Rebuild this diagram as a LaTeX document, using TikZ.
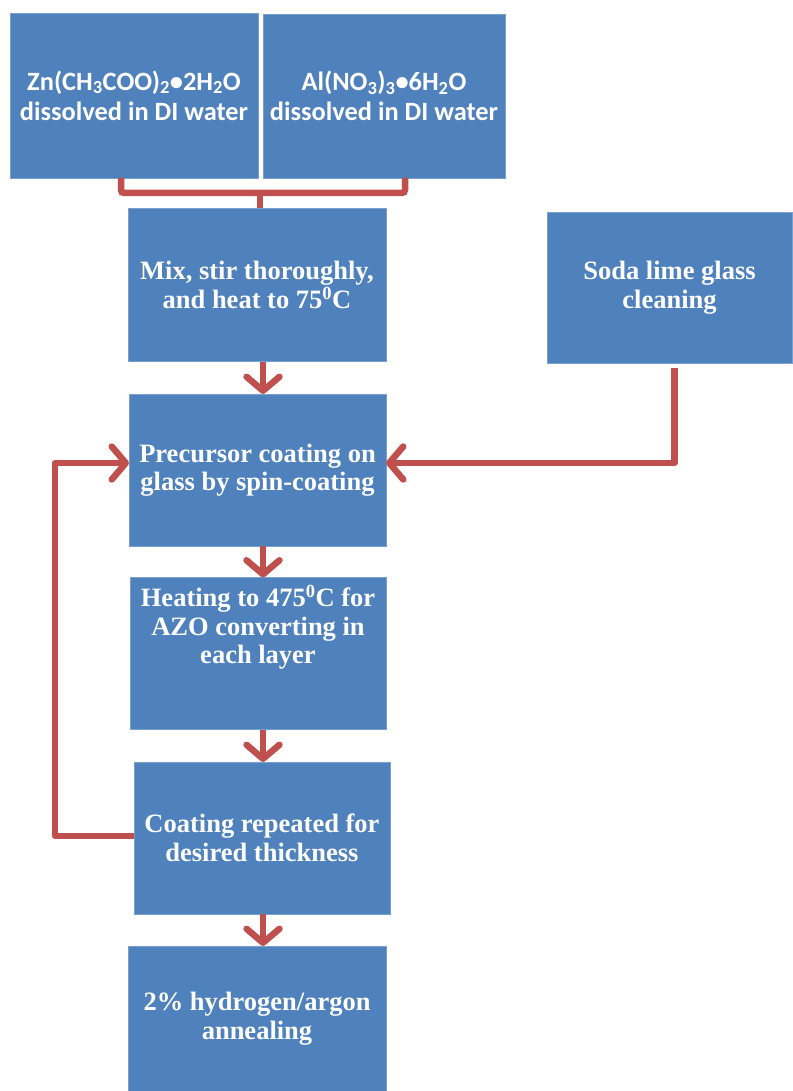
\documentclass[tikz,border=0pt]{standalone}
\usepackage{fontspec}
\setmainfont{Liberation Serif}
\newfontfamily\calfont{Carlito}
\usepackage{xcolor}
\usepackage{tikz}
\usetikzlibrary{arrows.meta, calc}
\definecolor{boxblue}{HTML}{4F81BD}
\definecolor{arrowred}{HTML}{C0504D}

\begin{document}
\begin{tikzpicture}[
    x=1pt, y=-1pt,
    stepbox/.style={fill=boxblue, draw=boxblue!75!white, line width=0.8pt, inner sep=0pt, outer sep=0pt,
        text=white, align=center},
    chembox/.style={stepbox, font=\calfont\bfseries\fontsize{26.4}{30}\selectfont},
    procbox/.style={stepbox, font=\bfseries\fontsize{26.5}{28.5}\selectfont},
    flow/.style={draw=arrowred, line width=6.5pt, line join=round,
        -{Straight Barb[length=14pt, width=33pt, line width=6.5pt, round]}},
    bracketline/.style={draw=arrowred, line width=6.5pt, rounded corners=3pt}
]
    \useasboundingbox (0,0) rectangle (792,1091);

    % the two solutions
    \node[chembox, minimum width=248pt, minimum height=165pt] (zn) at (134,95.5)
        {Zn(CH\textsubscript{3}COO)\textsubscript{2}•2H\textsubscript{2}O\\dissolved in DI water};
    \node[chembox, minimum width=242pt, minimum height=164pt] (al) at (384,96)
        {Al(NO\textsubscript{3})\textsubscript{3}•6H\textsubscript{2}O\\dissolved in DI water};

    % process steps
    \node[procbox, minimum width=258pt, minimum height=153pt] (mix) at (257,285)
        {Mix, stir thoroughly,\\and heat to 75\textsuperscript{0}C};
    \node[procbox, minimum width=245pt, minimum height=151pt] (soda) at (669.5,287.5)
        {Soda lime glass\\cleaning};
    \node[procbox, minimum width=257pt, minimum height=152pt] (pre) at (257.5,470)
        {Precursor coating on\\glass by spin-coating};
    \node[procbox, minimum width=256pt, minimum height=152pt] (heat) at (258,653.5) {};
    \node[procbox, fill=none, draw=none] (heattext) at ([yshift=26pt]heat.center)
        {Heating to 475\textsuperscript{0}C for\\AZO converting in\\each layer};
    \node[procbox, minimum width=256pt, minimum height=152pt] (coat) at (262,838)
        {Coating repeated for\\desired thickness};
    \node[procbox, minimum width=258pt, minimum height=145pt] (ann) at (257,1018.5)
        {2\% hydrogen/argon\\annealing};

    % joining bracket
    \coordinate (join) at (260,193);
    \draw[bracketline] ([xshift=-13pt]zn.south) |- (join) -| ([xshift=21pt]al.south);
    \draw[bracketline] (join) -- (join |- mix.north);

    % main column of arrows
    \coordinate (spine) at (263,0);
    \draw[flow] (mix.south -| spine) -- (pre.north -| spine);
    \draw[flow] (pre.south -| spine) -- (heat.north -| spine);
    \draw[flow] (heat.south -| spine) -- (coat.north -| spine);
    \draw[flow] (coat.south -| spine) -- (ann.north -| spine);

    % glass into coating
    \draw[flow, shorten <=5pt] ([xshift=5pt]soda.south) |- ([yshift=7pt]pre.east);

    % repeat loop
    \draw[flow] ([yshift=2pt]coat.west) -- ++(-79,0) |- ([yshift=7pt]pre.west);

\end{tikzpicture}
\end{document}
